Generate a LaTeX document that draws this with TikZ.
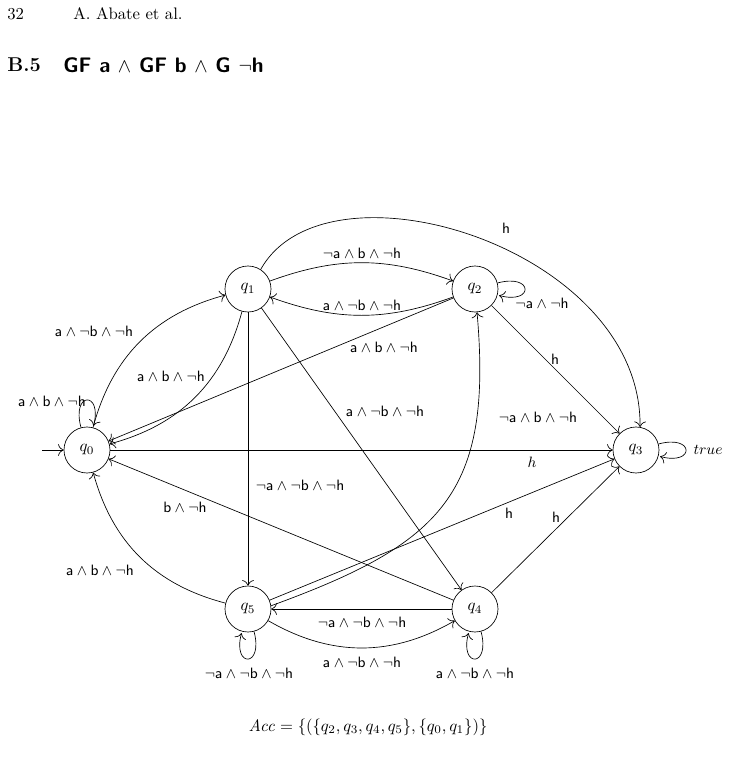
\documentclass[tikz,border=0pt]{standalone}
\usetikzlibrary{arrows.meta}
\begin{document}
\begin{tikzpicture}[x=0.6pt,y=0.6pt,
  >={To[scale=1.35]},
  st/.style={circle,draw,minimum size=27.6pt,inner sep=0pt},
  lb/.style={inner sep=0pt,font=\fontsize{9.5}{11}\selectfont},
  tr/.style={->},
  every loop/.style={->,shorten >=1pt}]
\useasboundingbox (0,0) rectangle (729,-780);
% header
\node[anchor=west,inner sep=0pt] (pg) at (7,-14) {32};
\node[anchor=west,inner sep=0pt] (au) at (73,-14) {A. Abate et al.};
\node[anchor=west,inner sep=0pt,font=\large\bfseries] (sec) at (7,-65) {B.5};
\node[anchor=west,inner sep=0pt,font=\fontsize{12.6}{15}\selectfont\bfseries\sffamily] (ttl) at (63,-65) {GF a $\land$ GF b $\land$ G $\neg$h};
% states
\node[st] (q0) at (87,-450) {$q_0$};
\node[st] (q1) at (248,-289) {$q_1$};
\node[st] (q2) at (475,-289) {$q_2$};
\node[st] (q3) at (636,-450) {$q_3$};
\node[st] (q4) at (475,-609) {$q_4$};
\node[st] (q5) at (248,-609) {$q_5$};
% transitions
\coordinate (init) at (42,-450);
\draw[tr] (init) -- (q0);
\draw (q0) edge[loop above] ();
\draw[tr] (q0) to[bend left=30] (q1);
\draw[tr] (q1) to[bend left=30] (q0);
\draw[tr] (q2) -- (q0);
\draw[tr] (q0) -- (q3);
\draw[tr] (q1) to[bend left=20] (q2);
\draw[tr] (q2) to[bend left=20] (q1);
\draw (q2) edge[loop right] ();
\draw[tr] (q1.57) .. controls (326,-152) and (642,-247) .. (q3.80);
\draw[tr] (q1) -- (q5);
\draw[tr] (q1) -- (q4);
\draw[tr] (q2) -- (q3);
\draw[tr] (q5.8) to[out=20,in=-85,looseness=1.3] (q2);
\draw[tr] (q5) -- (q3);
\draw[tr] (q4) -- (q0);
\draw[tr] (q5) to[bend left=30] (q0);
\draw[tr] (q5) to[bend right=30] (q4);
\draw[tr] (q4) -- (q5);
\draw (q5) edge[loop below] ();
\draw (q4) edge[loop below] ();
\draw[tr] (q4) -- (q3);
\draw (q3) edge[loop right] ();
% labels
\node[lb] (l00) at (52,-401) {$\mathsf{a}\land\mathsf{b}\land\neg\mathsf{h}$};
\node[lb] (l01) at (94,-331) {$\mathsf{a}\land\neg\mathsf{b}\land\neg\mathsf{h}$};
\node[lb] (l10) at (171,-376) {$\mathsf{a}\land\mathsf{b}\land\neg\mathsf{h}$};
\node[lb] (l20) at (384,-347) {$\mathsf{a}\land\mathsf{b}\land\neg\mathsf{h}$};
\node[lb] (l03) at (532,-462) {$h$};
\node[lb] (l12) at (362,-253) {$\neg\mathsf{a}\land\mathsf{b}\land\neg\mathsf{h}$};
\node[lb] (l21) at (362,-305) {$\mathsf{a}\land\neg\mathsf{b}\land\neg\mathsf{h}$};
\node[lb] (l22) at (542,-303) {$\neg\mathsf{a}\land\neg\mathsf{h}$};
\node[lb] (l13) at (506,-228) {$\mathsf{h}$};
\node[lb] (l15) at (300,-485) {$\neg\mathsf{a}\land\neg\mathsf{b}\land\neg\mathsf{h}$};
\node[lb] (l14) at (385,-411) {$\mathsf{a}\land\neg\mathsf{b}\land\neg\mathsf{h}$};
\node[lb] (l23) at (555,-359) {$\mathsf{h}$};
\node[lb] (l52) at (538,-417) {$\neg\mathsf{a}\land\mathsf{b}\land\neg\mathsf{h}$};
\node[lb] (l53) at (509,-513) {$\mathsf{h}$};
\node[lb] (l40) at (185,-507) {$\mathsf{b}\land\neg\mathsf{h}$};
\node[lb] (l50) at (100,-570) {$\mathsf{a}\land\mathsf{b}\land\neg\mathsf{h}$};
\node[lb] (l54) at (362,-662) {$\mathsf{a}\land\neg\mathsf{b}\land\neg\mathsf{h}$};
\node[lb] (l45) at (362,-622) {$\neg\mathsf{a}\land\neg\mathsf{b}\land\neg\mathsf{h}$};
\node[lb] (l55) at (249,-673) {$\neg\mathsf{a}\land\neg\mathsf{b}\land\neg\mathsf{h}$};
\node[lb] (l44) at (475,-673) {$\mathsf{a}\land\neg\mathsf{b}\land\neg\mathsf{h}$};
\node[lb] (l43) at (556,-517) {$\mathsf{h}$};
\node[lb] (l33) at (708,-450) {$true$};
% acceptance
\node[inner sep=0pt] (acc) at (368,-727) {$\mathit{Acc}=\{(\{q_2,q_3,q_4,q_5\},\{q_0,q_1\})\}$};
\end{tikzpicture}
\end{document}
